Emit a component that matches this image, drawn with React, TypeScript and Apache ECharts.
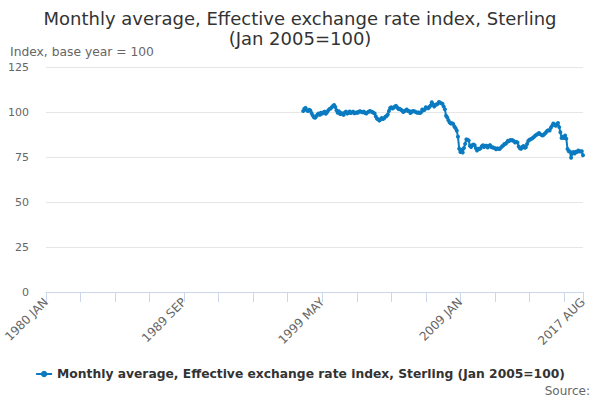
import React, { useEffect, useRef } from "react";
import * as echarts from "echarts";

const MONTHS = ["JAN", "FEB", "MAR", "APR", "MAY", "JUN", "JUL", "AUG", "SEP", "OCT", "NOV", "DEC"];
const FIRST_YEAR = 1980;
const LAST_YEAR = 2017;
const LAST_MONTH_INDEX = 7; // AUG
const DATA_START_YEAR = 1998;

const v1998 = [100.5, 101.8, 102.3, 101.0, 100.6, 101.2, 100.8, 99.5, 98.2, 97.1, 96.8, 97.6];
const v1999 = [98.6, 99.2, 98.4, 99.6, 99.1, 99.8, 100.2, 99.0, 99.8, 100.9, 101.6, 101.9];
const v2000 = [102.6, 103.4, 103.9, 102.8, 101.0, 99.6, 100.4, 98.9, 99.5, 98.7, 98.4, 99.8];
const v2001 = [100.2, 99.1, 99.5, 100.3, 99.4, 99.8, 100.2, 99.3, 99.5, 99.9, 99.6, 100.3];
const v2002 = [100.4, 100.0, 99.8, 100.2, 99.5, 99.2, 99.8, 100.1, 100.6, 100.3, 100.0, 99.6];
const v2003 = [99.2, 97.5, 96.3, 95.9, 95.2, 96.0, 96.7, 96.1, 96.5, 97.4, 97.8, 98.6];
const v2004 = [100.6, 102.2, 102.6, 102.0, 102.4, 103.0, 103.4, 102.5, 101.6, 101.8, 101.2, 100.9];
const v2005 = [100.0, 100.4, 100.8, 101.4, 100.6, 100.5, 99.4, 100.0, 100.6, 100.4, 100.2, 99.8];
const v2006 = [99.6, 99.8, 99.5, 99.8, 101.4, 101.0, 101.3, 102.6, 102.4, 102.1, 102.8, 103.6];
const v2007 = [105.4, 104.1, 103.0, 104.0, 104.2, 104.6, 105.5, 105.2, 104.8, 104.6, 103.1, 101.5];
const v2008 = [97.9, 97.0, 95.4, 94.2, 93.6, 93.7, 93.4, 92.0, 91.0, 89.6, 86.2, 79.6];
const v2009 = [77.8, 79.0, 77.5, 80.0, 82.3, 84.8, 84.6, 84.2, 81.3, 80.5, 81.6, 82.0];
const v2010 = [81.5, 79.9, 78.6, 79.6, 79.4, 79.9, 81.0, 81.5, 80.5, 81.3, 81.2, 80.3];
const v2011 = [81.2, 81.6, 80.5, 80.3, 80.2, 79.9, 79.3, 79.8, 79.6, 79.5, 80.2, 80.9];
const v2012 = [81.4, 82.2, 82.3, 83.0, 84.0, 83.9, 84.5, 84.3, 84.3, 83.7, 83.0, 83.4];
const v2013 = [83.1, 80.8, 79.8, 79.6, 80.6, 81.1, 80.1, 80.4, 82.2, 83.9, 84.6, 84.9];
const v2014 = [85.2, 85.7, 86.3, 86.9, 87.4, 87.8, 88.3, 87.7, 87.3, 86.9, 87.4, 88.0];
const v2015 = [88.7, 89.6, 89.9, 89.7, 91.2, 92.3, 93.6, 93.0, 92.4, 93.2, 93.9, 91.6];
const v2016 = [88.8, 85.6, 86.2, 85.5, 86.9, 85.2, 79.4, 78.2, 78.0, 74.6, 77.0, 77.8];
const v2017 = [76.9, 77.9, 77.8, 78.6, 78.2, 78.0, 78.2, 76.0];

const YEAR_VALUES = [
  v1998, v1999, v2000, v2001, v2002, v2003, v2004, v2005, v2006, v2007,
  v2008, v2009, v2010, v2011, v2012, v2013, v2014, v2015, v2016, v2017,
];

const Y_TICKS = [0, 25, 50, 75, 100, 125];

const TITLE = "Monthly average, Effective exchange rate index, Sterling\n(Jan 2005=100)";
const SERIES_NAME = "Monthly average, Effective exchange rate index, Sterling (Jan 2005=100)";
const Y_NAME = "Index, base year = 100";
const SOURCE = "Source:";

const LINE_COLOR = "#0b7bc1";
const FONT = "DejaVu Sans";

function buildCategories(): string[] {
  const out: string[] = [];
  for (let y = FIRST_YEAR; y <= LAST_YEAR; y++) {
    for (let m = 0; m < 12; m++) {
      if (y === LAST_YEAR && m > LAST_MONTH_INDEX) break;
      out.push(`${y} ${MONTHS[m]}`);
    }
  }
  return out;
}

export default function App() {
  const ref = useRef<HTMLDivElement>(null);

  useEffect(() => {
    document.body.style.margin = "0";
    if (!ref.current) return;
    const chart = echarts.init(ref.current, undefined, { renderer: "svg" });

    const categories = buildCategories();
    const lead = (DATA_START_YEAR - FIRST_YEAR) * 12;
    const data: (number | null)[] = [];
    for (let i = 0; i < lead; i++) data.push(null);
    YEAR_VALUES.forEach((arr) => arr.forEach((v) => data.push(v)));
    const lastIdx = categories.length - 1;

    chart.setOption({
      animation: false,
      textStyle: { fontFamily: FONT },
      title: {
        text: TITLE,
        left: "center",
        top: 3,
        textStyle: { fontFamily: FONT, fontSize: 18, fontWeight: "normal", color: "#333333", lineHeight: 20 },
      },
      legend: {
        bottom: 15,
        left: "center",
        itemWidth: 16,
        itemHeight: 8,
        itemGap: 4,
        textStyle: { fontFamily: FONT, fontSize: 12.3, fontWeight: "bold", color: "#333333" },
        data: [SERIES_NAME],
      },
      graphic: [
        {
          type: "text",
          left: 10,
          top: 46,
          style: { text: Y_NAME, fontFamily: FONT, fontSize: 12.3, fill: "#666666" },
        },
        {
          type: "text",
          right: 10,
          top: 385,
          style: { text: SOURCE, fontFamily: FONT, fontSize: 12, fill: "#666666" },
        },
      ],
      grid: { left: 46, right: 17, top: 67, bottom: 108, containLabel: false },
      xAxis: {
        type: "category",
        boundaryGap: false,
        data: categories,
        axisLine: { lineStyle: { color: "#ccd6eb" } },
        axisTick: {
          length: 10,
          lineStyle: { color: "#ccd6eb" },
          interval: (i: number) => i % 29 === 0 || i === lastIdx,
        },
        axisLabel: {
          rotate: 45,
          fontFamily: FONT,
          fontSize: 12,
          color: "#666666",
          margin: 8,
          interval: (i: number) => i % 116 === 0 || i === lastIdx,
        },
        splitLine: { show: false },
      },
      yAxis: {
        type: "value",
        min: Y_TICKS[0],
        max: Y_TICKS[Y_TICKS.length - 1],
        interval: 25,
        axisLine: { show: false },
        axisTick: { show: false },
        axisLabel: { fontFamily: FONT, fontSize: 11, color: "#666666", margin: 17 },
        splitLine: { lineStyle: { color: "#e6e6e6" } },
      },
      series: [
        {
          name: SERIES_NAME,
          type: "line",
          data,
          color: LINE_COLOR,
          symbol: "circle",
          symbolSize: 4,
          showAllSymbol: true,
          lineStyle: { width: 2, color: LINE_COLOR },
          itemStyle: { color: LINE_COLOR },
        },
      ],
    });

    return () => chart.dispose();
  }, []);

  return <div ref={ref} style={{ width: 600, height: 400 }} />;
}
